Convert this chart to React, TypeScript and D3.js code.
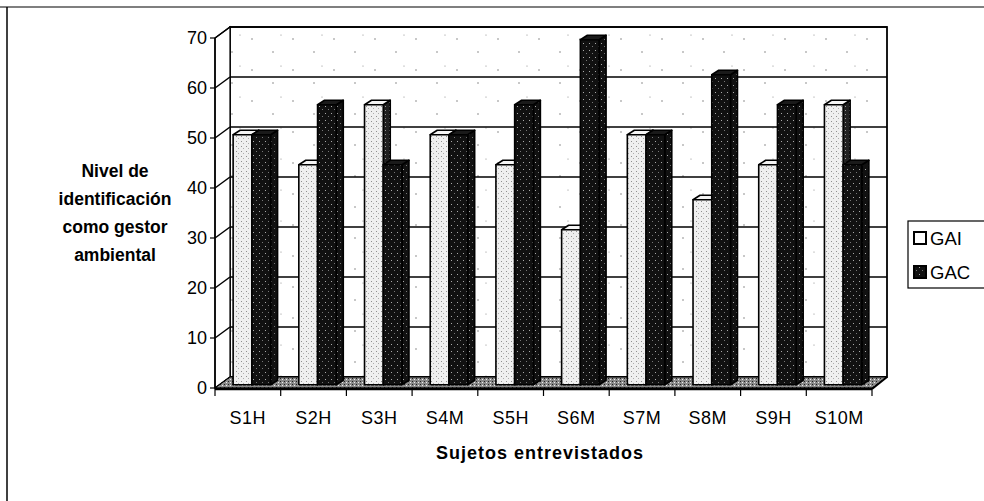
import React from 'react';
import * as d3 from 'd3';

// values
const categories = ['S1H', 'S2H', 'S3H', 'S4M', 'S5H', 'S6M', 'S7M', 'S8M', 'S9H', 'S10M'];
const seriesNames = ['GAI', 'GAC'];
const gaiValues = [50, 44, 56, 50, 44, 31, 50, 37, 44, 56];
const gacValues = [50, 56, 44, 50, 56, 69, 50, 62, 56, 44];
const yTicks = [0, 10, 20, 30, 40, 50, 60, 70];
const yTitleLines = ['Nivel de', 'identificación', 'como gestor', 'ambiental'];

const W = 984;
const H = 501;
const font = 'Arial, "Liberation Sans", sans-serif';

// 3d offsets
const depthX = 15;
const depthY = 11;
const barDX = 7;
const barDY = 4.5;
const shiftX = (depthX - barDX) / 2;
const shiftY = (depthY - barDY) / 2;

const App = () => {
  const x = d3.scaleBand<string>()
    .domain(categories)
    .range([215, 872])
    .paddingInner(0.43)
    .paddingOuter(0.215);

  const xs = d3.scaleBand<string>()
    .domain(seriesNames)
    .range([0, x.bandwidth()]);

  const y = d3.scaleLinear().domain([0, 70]).range([388, 38]);

  const x0 = x.range()[0];
  const x1 = x.range()[1];
  const step = x.step();

  const fills = {
    GAI: { front: 'url(#gaiFront)', side: 'url(#gaiSide)', top: '#f4f4f4' },
    GAC: { front: 'url(#gacFront)', side: 'url(#gacFront)', top: '#1a1a1a' },
  };

  const bar = (cat: string, s: string, v: number) => {
    const bx = (x(cat) as number) + (xs(s) as number) + shiftX;
    const bw = xs.bandwidth();
    const yb = y(0) - shiftY;
    const yt = y(v) - shiftY;
    const f = fills[s];
    const side = `${bx + bw},${yt} ${bx + bw + barDX},${yt - barDY} ${bx + bw + barDX},${yb - barDY} ${bx + bw},${yb}`;
    const top = `${bx},${yt} ${bx + barDX},${yt - barDY} ${bx + bw + barDX},${yt - barDY} ${bx + bw},${yt}`;
    return (
      <g key={cat + s} stroke="#000" strokeWidth={1.6} strokeLinejoin="round">
        <polygon points={side} fill={f.side} />
        <polygon points={top} fill={f.top} />
        <rect x={bx} y={yt} width={bw} height={yb - yt} fill={f.front} />
      </g>
    );
  };

  return (
    <svg width={W} height={H} style={{ position: 'absolute', left: 0, top: 0, background: '#fff' }}
      fontFamily={font}>
      <defs>
        <pattern id="wall" width="41" height="31" patternUnits="userSpaceOnUse">
          <rect width="41" height="31" fill="#fff" />
          <circle cx="6" cy="8" r="0.7" fill="#666" />
          <circle cx="27" cy="21" r="0.7" fill="#666" />
          <circle cx="35" cy="4" r="0.6" fill="#888" />
        </pattern>
        <pattern id="gaiFront" width="5" height="5" patternUnits="userSpaceOnUse">
          <rect width="5" height="5" fill="#efefef" />
          <rect x="1" y="1" width="1" height="1" fill="#8f8f8f" />
          <rect x="3" y="3" width="1" height="1" fill="#adadad" />
        </pattern>
        <pattern id="gaiSide" width="4" height="4" patternUnits="userSpaceOnUse">
          <rect width="4" height="4" fill="#202020" />
          <rect x="1" y="2" width="1" height="1" fill="#999" />
        </pattern>
        <pattern id="gacFront" width="6" height="7" patternUnits="userSpaceOnUse">
          <rect width="6" height="7" fill="#111" />
          <rect x="1" y="1" width="1" height="1" fill="#aaa" />
          <rect x="4" y="4" width="1" height="1" fill="#777" />
        </pattern>
        <pattern id="floor" width="4" height="3" patternUnits="userSpaceOnUse">
          <rect width="4" height="3" fill="#8a8a8a" />
          <rect x="0" y="0" width="1" height="1" fill="#222" />
          <rect x="2" y="1" width="1" height="1" fill="#eee" />
        </pattern>
      </defs>

      {/* outer frame */}
      <line x1={0} y1={7} x2={W} y2={7} stroke="#000" strokeWidth={1.2} />
      <line x1={7} y1={7} x2={7} y2={H} stroke="#000" strokeWidth={1.5} />

      {/* back wall and side wall */}
      <rect x={x0 + depthX} y={y(70) - depthY} width={x1 - x0} height={y(0) - y(70)}
        fill="url(#wall)" stroke="#000" strokeWidth={1.8} />
      <polygon
        points={`${x0},${y(0)} ${x0},${y(70)} ${x0 + depthX},${y(70) - depthY} ${x0 + depthX},${y(0) - depthY}`}
        fill="#fff" stroke="#000" strokeWidth={1.2} />

      {/* gridlines */}
      {yTicks.map((t) => (
        <g key={'g' + t} stroke="#000" strokeWidth={1.5}>
          <line x1={x0 + depthX} x2={x1 + depthX} y1={y(t) - depthY} y2={y(t) - depthY} />
          <line x1={x0} x2={x0 + depthX} y1={y(t)} y2={y(t) - depthY} />
        </g>
      ))}

      {/* floor */}
      <polygon
        points={`${x0},${y(0)} ${x1},${y(0)} ${x1 + depthX},${y(0) - depthY} ${x0 + depthX},${y(0) - depthY}`}
        fill="url(#floor)" stroke="#000" strokeWidth={1} />

      {/* bars */}
      {categories.map((c, i) => (
        <g key={c}>
          {bar(c, 'GAI', gaiValues[i])}
          {bar(c, 'GAC', gacValues[i])}
        </g>
      ))}

      <line x1={x0} x2={x1} y1={y(0) + 1} y2={y(0) + 1} stroke="#000" strokeWidth={2.5} />
      <line x1={x1} x2={x1 + depthX} y1={y(0) + 1} y2={y(0) - depthY} stroke="#000" strokeWidth={2} />

      {/* y axis */}
      <line x1={x0} x2={x0} y1={y(0)} y2={y(70)} stroke="#000" strokeWidth={1.6} />
      {yTicks.map((t) => (
        <g key={'t' + t}>
          <line x1={x0 - 5} x2={x0} y1={y(t)} y2={y(t)} stroke="#000" strokeWidth={1.2} />
          <text x={x0 - 8} y={y(t)} dy="0.36em" textAnchor="end" fontSize={18}>{t}</text>
        </g>
      ))}

      {/* x axis ticks and labels */}
      {d3.range(categories.length + 1).map((i) => (
        <line key={'xt' + i} x1={x0 + i * step} x2={x0 + i * step} y1={y(0)} y2={y(0) + 8}
          stroke="#000" strokeWidth={1.2} />
      ))}
      {categories.map((c) => (
        <text key={'xl' + c} x={(x(c) as number) + x.bandwidth() / 2} y={424} textAnchor="middle"
          fontSize={18} letterSpacing={0.5}>{c}</text>
      ))}

      {/* titles */}
      <text x={540} y={459} textAnchor="middle" fontSize={18} fontWeight="bold" letterSpacing={1}>
        Sujetos entrevistados
      </text>
      {yTitleLines.map((l, i) => (
        <text key={l} x={115} y={177 + i * 28} textAnchor="middle" fontSize={17.5} fontWeight="bold">{l}</text>
      ))}

      {/* legend */}
      <rect x={908} y={221} width={90} height={67} fill="#fff" stroke="#000" strokeWidth={1.2} />
      {seriesNames.map((s, i) => (
        <g key={'lg' + s}>
          <rect x={914} y={232 + i * 34} width={12} height={12}
            fill={s === 'GAI' ? '#fff' : 'url(#gacFront)'} stroke="#000" strokeWidth={2} />
          <text x={930} y={238 + i * 34} dy="0.36em" fontSize={18.5}>{s}</text>
        </g>
      ))}
    </svg>
  );
};

export default App;
